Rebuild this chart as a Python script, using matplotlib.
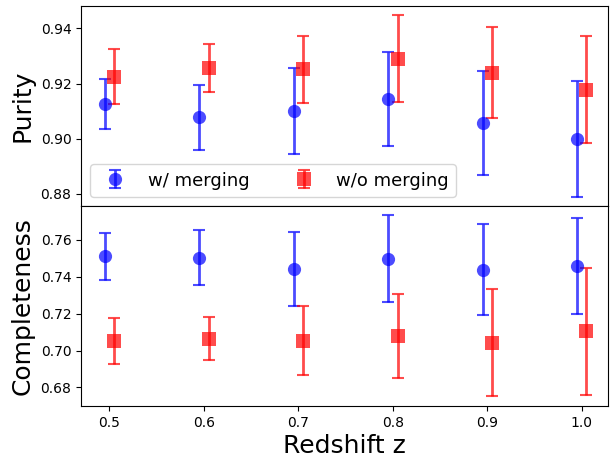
import numpy as np
import matplotlib
matplotlib.use("Agg")
import matplotlib.pyplot as plt

# Redshift bins
redshift = [0.5, 0.6, 0.7, 0.8, 0.9, 1.0]
xticks = [0.5, 0.6, 0.7, 0.8, 0.9, 1.0]
xtick_labels = ["0.5", "0.6", "0.7", "0.8", "0.9", "1.0"]

# Purity
purity_merge = [0.9126, 0.9077, 0.9100, 0.9145, 0.9056, 0.8999]
purity_merge_err = [0.0091, 0.0118, 0.0155, 0.0170, 0.0189, 0.0210]
purity_nomerge = [0.9224, 0.9256, 0.9251, 0.9290, 0.9239, 0.9178]
purity_nomerge_err = [0.0100, 0.0088, 0.0121, 0.0158, 0.0165, 0.0193]

# Completeness
compl_merge = [0.7510, 0.7503, 0.7442, 0.7497, 0.7438, 0.7456]
compl_merge_err = [0.0126, 0.0149, 0.0203, 0.0235, 0.0248, 0.0260]
compl_nomerge = [0.7051, 0.7063, 0.7053, 0.7077, 0.7042, 0.7104]
compl_nomerge_err = [0.0125, 0.0116, 0.0186, 0.0227, 0.0289, 0.0343]

labels = ["w/ merging", "w/o merging"]
dx = 0.005

fig = plt.figure(figsize=(6.1, 4.55), dpi=100)
ax1 = fig.add_axes([0.133, 0.5475, 0.864, 0.4385])
ax2 = fig.add_axes([0.133, 0.108, 0.864, 0.4395], sharex=ax1)

z = np.array(redshift)
style = dict(capsize=4, elinewidth=2, capthick=1.5, alpha=0.7, ls="none",
             markersize=9.5)


def draw(ax, x, y, err, fmt, color, label=None):
    cont = ax.errorbar(x, y, yerr=err, fmt=fmt, color=color, label=label, **style)
    cont[0].set_markeredgewidth(0)
    return cont


draw(ax1, z - dx, purity_merge, purity_merge_err, "o", "blue", labels[0])
draw(ax1, z + dx, purity_nomerge, purity_nomerge_err, "s", "red", labels[1])
draw(ax2, z - dx, compl_merge, compl_merge_err, "o", "blue")
draw(ax2, z + dx, compl_nomerge, compl_nomerge_err, "s", "red")

ax1.set_ylim(0.8756, 0.948)
ax1.set_yticks([0.88, 0.90, 0.92, 0.94])
ax2.set_ylim(0.670, 0.7784)
ax2.set_yticks([0.68, 0.70, 0.72, 0.74, 0.76])
ax2.set_xlim(0.47, 1.028)
ax2.set_xticks(xticks)
ax2.set_xticklabels(xtick_labels)
plt.setp(ax1.get_xticklabels(), visible=False)
ax1.tick_params(axis="x", length=0)

ax1.set_ylabel("Purity", fontsize=18)
ax2.set_ylabel("Completeness", fontsize=18)
ax2.set_xlabel("Redshift z", fontsize=18, labelpad=3)
fig.align_ylabels([ax1, ax2])

ax1.legend(loc="lower left", ncol=2, fontsize=13)

fig.savefig("out.png", dpi=100)
